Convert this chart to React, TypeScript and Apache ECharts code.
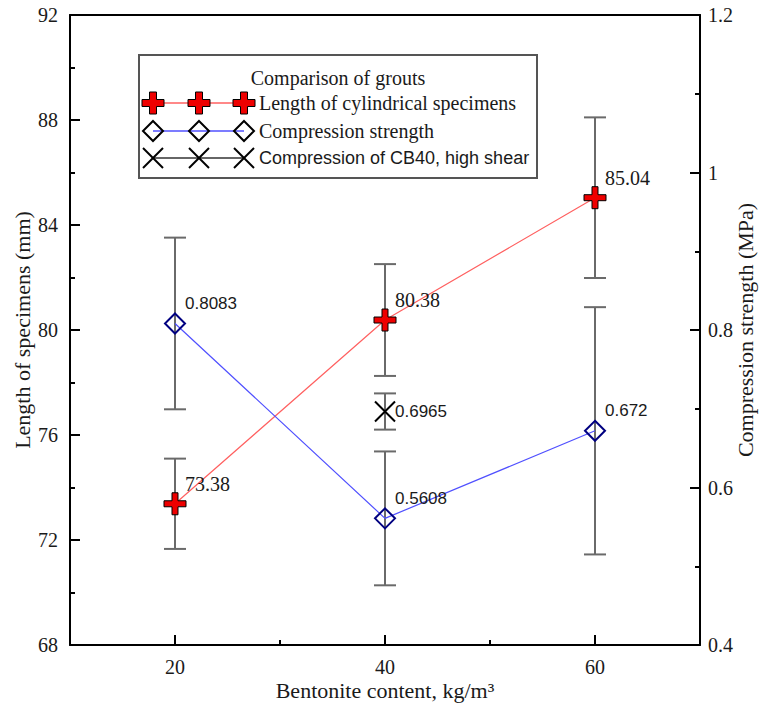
import React, { useEffect, useRef } from "react";
import * as echarts from "echarts";

// ---- data ----
const bentonite = [20, 40, 60];
const xTickLabels = [20, 40, 60];
const lengthMean = [73.38, 80.38, 85.04];
const lengthErr = [1.72, 2.13, 3.06];
const strengthMean = [0.8083, 0.5608, 0.672];
const strengthErr = [0.109, 0.085, 0.157];
const cbX = [40];
const cbMean = [0.6965];
const cbErr = [0.023];

const SERIF = "Liberation Serif";
const SANS = "Liberation Sans";
const TXT = "#1a1a1a";
const CROSS = "path://M8,0H14V8H22V14H14V22H8V14H0V8H8Z";
const XMARK = "path://M0,0L20,20M20,0L0,20";

const errRender = (params: any, api: any) => {
  const x = api.value(0);
  const a = api.coord([x, api.value(1)]);
  const b = api.coord([x, api.value(2)]);
  const style = { stroke: "#6a6a6a", lineWidth: 2 };
  return {
    type: "group",
    children: [
      { type: "line", shape: { x1: a[0], y1: a[1], x2: b[0], y2: b[1] }, style },
      { type: "line", shape: { x1: a[0] - 11, y1: a[1], x2: a[0] + 11, y2: a[1] }, style },
      { type: "line", shape: { x1: b[0] - 11, y1: b[1], x2: b[0] + 11, y2: b[1] }, style },
    ],
  };
};

export default function App() {
  const ref = useRef<HTMLDivElement>(null);
  useEffect(() => {
    if (!ref.current) return;
    const chart = echarts.init(ref.current, null, { renderer: "svg" });
    const axisLine = { show: true, lineStyle: { color: "#000", width: 2 } };
    const lenPts = bentonite.map((x, i) => [x, lengthMean[i]]);
    const strPts = bentonite.map((x, i) => [x, strengthMean[i]]);
    const cbPts = cbX.map((x, i) => [x, cbMean[i]]);
    const lenErr = bentonite.map((x, i) => [x, lengthMean[i] - lengthErr[i], lengthMean[i] + lengthErr[i]]);
    const strErrD = bentonite.map((x, i) => [x, strengthMean[i] - strengthErr[i], strengthMean[i] + strengthErr[i]]);
    const cbErrD = cbX.map((x, i) => [x, cbMean[i] - cbErr[i], cbMean[i] + cbErr[i]]);

    const legendX = [153, 199, 244];
    const crossPts = (cx: number, cy: number) => [
      [cx - 3.5, cy - 11], [cx + 3.5, cy - 11], [cx + 3.5, cy - 3.5], [cx + 11, cy - 3.5],
      [cx + 11, cy + 3.5], [cx + 3.5, cy + 3.5], [cx + 3.5, cy + 11], [cx - 3.5, cy + 11],
      [cx - 3.5, cy + 3.5], [cx - 11, cy + 3.5], [cx - 11, cy - 3.5], [cx - 3.5, cy - 3.5],
    ];
    const legendChildren: any[] = [
      { type: "rect", shape: { x: 139, y: 55, width: 398, height: 123 }, style: { fill: "#fff", stroke: "#555", lineWidth: 2 } },
      { type: "text", x: 338, y: 78, style: { text: "Comparison of grouts", font: `20px "${SERIF}"`, fill: TXT, align: "center", verticalAlign: "middle" } },
      { type: "line", shape: { x1: 153, y1: 103, x2: 244, y2: 103 }, style: { stroke: "#ff6060", lineWidth: 1.5 } },
      { type: "line", shape: { x1: 153, y1: 131, x2: 244, y2: 131 }, style: { stroke: "#5050ff", lineWidth: 1.5 } },
      { type: "line", shape: { x1: 153, y1: 158, x2: 244, y2: 158 }, style: { stroke: "#333", lineWidth: 1.5 } },
      { type: "text", x: 259, y: 103, style: { text: "Length of cylindrical specimens", font: `20px "${SERIF}"`, fill: TXT, verticalAlign: "middle" } },
      { type: "text", x: 259, y: 131, style: { text: "Compression strength", font: `20px "${SERIF}"`, fill: TXT, verticalAlign: "middle" } },
      { type: "text", x: 259, y: 158, style: { text: "Compression of CB40, high shear", font: `18px "${SANS}"`, fill: TXT, verticalAlign: "middle" } },
    ];
    legendX.forEach((cx) => {
      legendChildren.push({ type: "polygon", shape: { points: crossPts(cx, 103) }, style: { fill: "#ee0000", stroke: "#000", lineWidth: 1 } });
      legendChildren.push({ type: "polygon", shape: { points: [[cx, 121], [cx + 10, 131], [cx, 141], [cx - 10, 131]] }, style: { fill: "none", stroke: "#000", lineWidth: 2 } });
      legendChildren.push({ type: "line", shape: { x1: cx - 10, y1: 148, x2: cx + 10, y2: 168 }, style: { stroke: "#000", lineWidth: 2 } });
      legendChildren.push({ type: "line", shape: { x1: cx + 10, y1: 148, x2: cx - 10, y2: 168 }, style: { stroke: "#000", lineWidth: 2 } });
    });

    chart.setOption({
      animation: false,
      grid: { left: 70, right: 64, top: 15, bottom: 61, outerBoundsMode: "none", containLabel: false },
      xAxis: [
        {
          type: "value", min: 10, max: 70, interval: 10,
          axisLine, splitLine: { show: false },
          axisTick: { inside: true, length: 5, lineStyle: { color: "#000", width: 2 } },
          axisLabel: {
            formatter: (v: number) => (xTickLabels.includes(v) ? String(v) : ""),
            color: TXT, fontFamily: SERIF, fontSize: 20, margin: 12,
          },
          name: "Bentonite content, kg/m³", nameLocation: "middle", nameGap: 34, nameMoveOverlap: false,
          nameTextStyle: { color: TXT, fontFamily: SERIF, fontSize: 22 },
        },
        {
          type: "value", position: "top", min: 10, max: 70, interval: 10,
          axisLine, axisTick: { show: false }, axisLabel: { show: false }, splitLine: { show: false },
        },
      ],
      yAxis: [
        {
          type: "value", min: 68, max: 92, interval: 4, position: "left",
          axisLine, splitLine: { show: false },
          axisTick: { inside: true, length: 10, lineStyle: { color: "#000", width: 2 } },
          minorTick: { show: true, splitNumber: 2, length: 5, lineStyle: { color: "#000", width: 2 } },
          axisLabel: { color: TXT, fontFamily: SERIF, fontSize: 20, margin: 12 },
          name: "Length of specimens (mm)", nameLocation: "middle", nameGap: 37, nameRotate: 90, nameMoveOverlap: false,
          nameTextStyle: { color: TXT, fontFamily: SERIF, fontSize: 22 },
        },
        {
          type: "value", min: 0.4, max: 1.2, interval: 0.2, position: "right",
          axisLine, splitLine: { show: false },
          axisTick: { inside: true, length: 10, lineStyle: { color: "#000", width: 2 } },
          minorTick: { show: true, splitNumber: 2, length: 5, lineStyle: { color: "#000", width: 2 } },
          axisLabel: { color: TXT, fontFamily: SERIF, fontSize: 20, margin: 8 },
          name: "Compression strength (MPa)", nameLocation: "middle", nameGap: 34, nameRotate: 90, nameMoveOverlap: false,
          nameTextStyle: { color: TXT, fontFamily: SERIF, fontSize: 22 },
        },
      ],
      graphic: [{ type: "group", children: legendChildren }],
      series: [
        {
          type: "custom", name: "xMajorTicks", xAxisIndex: 0, yAxisIndex: 0, z: 1, silent: true,
          data: xTickLabels.map((v) => [v]),
          renderItem: (p: any, api: any) => {
            const c = api.coord([api.value(0), 68]);
            return { type: "line", shape: { x1: c[0], y1: c[1], x2: c[0], y2: c[1] - 10 }, style: { stroke: "#000", lineWidth: 2 } };
          },
          encode: { x: 0 },
        },
        { type: "custom", name: "lenErr", yAxisIndex: 0, data: lenErr, renderItem: errRender, encode: { x: 0, y: [1, 2] }, z: 2, silent: true },
        { type: "custom", name: "strErr", yAxisIndex: 1, data: strErrD, renderItem: errRender, encode: { x: 0, y: [1, 2] }, z: 2, silent: true },
        { type: "custom", name: "cbErr", yAxisIndex: 1, data: cbErrD, renderItem: errRender, encode: { x: 0, y: [1, 2] }, z: 2, silent: true },
        {
          type: "line", name: "Length of cylindrical specimens", yAxisIndex: 0, data: lenPts, z: 5,
          lineStyle: { color: "#ff6060", width: 1.2 },
          symbol: CROSS, symbolSize: 22, symbolKeepAspect: true,
          itemStyle: { color: "#ee0000", borderColor: "#000", borderWidth: 1 },
          label: {
            show: true, position: "inside", align: "left", verticalAlign: "middle", offset: [10, -20],
            formatter: (p: any) => String(p.value[1]), color: TXT, fontFamily: SERIF, fontSize: 20,
          },
        },
        {
          type: "line", name: "Compression strength", yAxisIndex: 1, data: strPts, z: 5,
          lineStyle: { color: "#5050ff", width: 1.2 },
          symbol: "diamond", symbolSize: 20,
          itemStyle: { color: "rgba(0,0,0,0)", borderColor: "#000080", borderWidth: 2 },
          label: {
            show: true, position: "inside", align: "left", verticalAlign: "middle", offset: [10, -20],
            formatter: (p: any) => String(p.value[1]), color: TXT, fontFamily: SANS, fontSize: 17,
          },
        },
        {
          type: "line", name: "Compression of CB40, high shear", yAxisIndex: 1, data: cbPts, z: 5,
          lineStyle: { color: "#333", width: 1 },
          symbol: XMARK, symbolSize: 20,
          itemStyle: { color: "rgba(0,0,0,0)", borderColor: "#000", borderWidth: 2 },
          label: {
            show: true, position: "inside", align: "left", verticalAlign: "middle", offset: [10, 0],
            formatter: (p: any) => String(p.value[1]), color: TXT, fontFamily: SANS, fontSize: 17,
          },
        },
      ],
    });
    return () => chart.dispose();
  }, []);
  return <div ref={ref} style={{ position: "fixed", left: 0, top: 0, width: 764, height: 706, background: "#fff" }} />;
}
